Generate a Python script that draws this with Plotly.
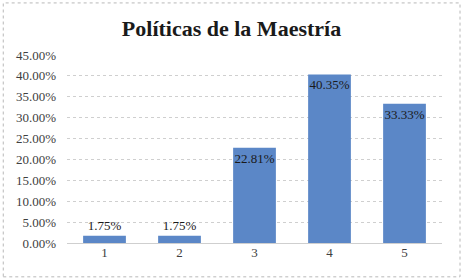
import plotly.graph_objects as go

categories = ["1", "2", "3", "4", "5"]
values = [1.75, 1.75, 22.81, 40.35, 33.33]
labels = ["1.75%", "1.75%", "22.81%", "40.35%", "33.33%"]
tick_vals = [0, 5, 10, 15, 20, 25, 30, 35, 40, 45]
tick_text = ["0.00%", "5.00%", "10.00%", "15.00%", "20.00%", "25.00%", "30.00%", "35.00%", "40.00%", "45.00%"]

font_family = "Liberation Serif, DejaVu Serif, serif"

fig = go.Figure(go.Bar(
    x=categories, y=values, text=labels,
    textposition=["outside", "outside", "inside", "inside", "inside"],
    insidetextanchor="end",
    textangle=0,
    constraintext="none",
    cliponaxis=False,
    textfont=dict(family=font_family, size=13, color="#1a1a1a"),
    marker=dict(color="#5b87c7", line=dict(width=0)),
))

fig.update_layout(
    width=463, height=280,
    margin=dict(l=67, r=21, t=55, b=37),
    paper_bgcolor="white", plot_bgcolor="white",
    bargap=0.43,
    showlegend=False,
    title=dict(text="<b>Políticas de la Maestría</b>", x=0.5, xanchor="center",
               y=0.9, yanchor="middle",
               font=dict(family=font_family, size=22, color="#1a1a1a")),
    font=dict(family=font_family, size=13, color="#404040"),
    xaxis=dict(showgrid=False, showline=False, ticks="", tickfont=dict(size=13, color="#404040")),
    yaxis=dict(range=[0, 45], tickvals=tick_vals, ticktext=tick_text,
               showgrid=True, gridcolor="#cfcfcf", griddash="dot", gridwidth=1,
               zeroline=True, zerolinecolor="#cfcfcf", zerolinewidth=1,
               ticks="", ticklabelstandoff=10, tickfont=dict(size=13, color="#404040")),
    shapes=[dict(type="rect", xref="paper", yref="paper", x0=-0.17, x1=1.048, y0=-0.18, y1=1.277,
                 line=dict(color="#b8b8b8", width=1, dash="dot"))],
)

fig.write_html("out.html", config={"displayModeBar": False},
               post_script="document.body.style.margin='0';")
